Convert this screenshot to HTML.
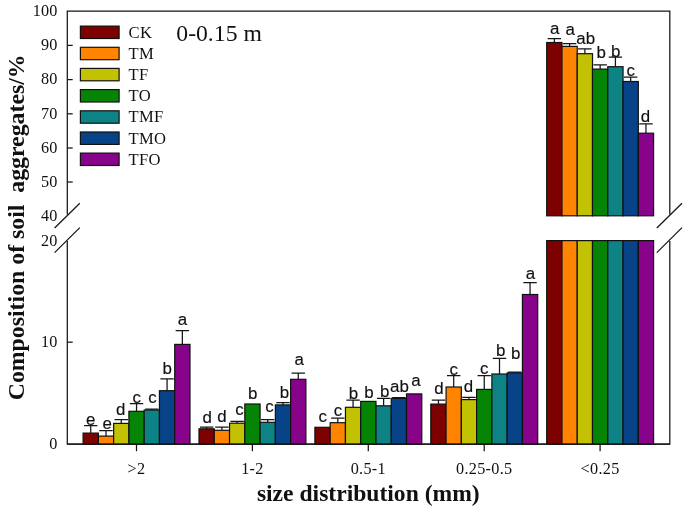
<!DOCTYPE html><html><head><meta charset="utf-8"><title>chart</title><style>html,body{margin:0;padding:0;background:#fff}svg{display:block;will-change:transform;opacity:0.999}text{font-family:"Liberation Serif",serif;fill:#111}.s{font-family:"Liberation Sans",sans-serif}</style></head><body>
<svg width="685" height="508" viewBox="0 0 685 508">
<rect width="685" height="508" fill="#fff"/>
<g stroke="#151515" stroke-width="1.25" fill="none">
<path d="M67.3 214.5V11.2H669.8V214.5"/>
<path d="M67.3 241V444.2H669.8V241"/>
<path d="M54.6 228.0L79.8 203.2"/>
<path d="M54.6 252.6L79.8 227.6"/>
<path d="M656.8 228.0L682.0 203.2"/>
<path d="M656.8 252.6L682.0 227.6"/>
<path d="M67.3 45.4h5.4"/>
<path d="M67.3 79.6h5.4"/>
<path d="M67.3 113.8h5.4"/>
<path d="M67.3 148.0h5.4"/>
<path d="M67.3 182.0h5.4"/>
<path d="M67.3 342.2h5.4"/>
<path d="M136.5 444.2v7"/>
<path d="M252.4 444.2v7"/>
<path d="M368.3 444.2v7"/>
<path d="M484.2 444.2v7"/>
<path d="M600.1 444.2v7"/>
</g>
<text x="57.5" y="16.0" font-size="16.2" letter-spacing="0.12" text-anchor="end">100</text>
<text x="57.5" y="50.2" font-size="16.2" letter-spacing="0.12" text-anchor="end">90</text>
<text x="57.5" y="84.4" font-size="16.2" letter-spacing="0.12" text-anchor="end">80</text>
<text x="57.5" y="118.6" font-size="16.2" letter-spacing="0.12" text-anchor="end">70</text>
<text x="57.5" y="152.8" font-size="16.2" letter-spacing="0.12" text-anchor="end">60</text>
<text x="57.5" y="186.8" font-size="16.2" letter-spacing="0.12" text-anchor="end">50</text>
<text x="57.5" y="220.8" font-size="16.2" letter-spacing="0.12" text-anchor="end">40</text>
<text x="57.5" y="245.5" font-size="16.2" letter-spacing="0.12" text-anchor="end">20</text>
<text x="57.5" y="347.0" font-size="16.2" letter-spacing="0.12" text-anchor="end">10</text>
<text x="57.5" y="449.2" font-size="16.2" letter-spacing="0.12" text-anchor="end">0</text>
<text x="136.5" y="474.2" font-size="16.2" letter-spacing="0.3" text-anchor="middle">&gt;2</text>
<text x="252.4" y="474.2" font-size="16.2" letter-spacing="0.3" text-anchor="middle">1-2</text>
<text x="368.3" y="474.2" font-size="16.2" letter-spacing="0.3" text-anchor="middle">0.5-1</text>
<text x="484.2" y="474.2" font-size="16.2" letter-spacing="0.3" text-anchor="middle">0.25-0.5</text>
<text x="600.1" y="474.2" font-size="16.2" letter-spacing="0.3" text-anchor="middle">&lt;0.25</text>
<text x="368.3" y="500.9" font-size="23.6" font-weight="bold" text-anchor="middle">size distribution (mm)</text>
<text transform="translate(23.6 400.3) rotate(-90)" font-size="23.8" font-weight="bold" style="white-space:pre">Composition of soil  aggregates/%</text>
<text x="176.3" y="40.8" font-size="23.7">0-0.15 m</text>
<rect x="80.4" y="26.1" width="38.7" height="12.4" fill="#7e0000" stroke="#111" stroke-width="1.2"/>
<text x="128.6" y="37.6" font-size="16.6" letter-spacing="0.3">CK</text>
<rect x="80.4" y="47.3" width="38.7" height="12.4" fill="#ff8400" stroke="#111" stroke-width="1.2"/>
<text x="128.6" y="58.8" font-size="16.6" letter-spacing="0.3">TM</text>
<rect x="80.4" y="68.4" width="38.7" height="12.4" fill="#c2c103" stroke="#111" stroke-width="1.2"/>
<text x="128.6" y="79.9" font-size="16.6" letter-spacing="0.3">TF</text>
<rect x="80.4" y="89.6" width="38.7" height="12.4" fill="#068406" stroke="#111" stroke-width="1.2"/>
<text x="128.6" y="101.1" font-size="16.6" letter-spacing="0.3">TO</text>
<rect x="80.4" y="110.8" width="38.7" height="12.4" fill="#0e8385" stroke="#111" stroke-width="1.2"/>
<text x="128.6" y="122.3" font-size="16.6" letter-spacing="0.3">TMF</text>
<rect x="80.4" y="132.0" width="38.7" height="12.4" fill="#094387" stroke="#111" stroke-width="1.2"/>
<text x="128.6" y="143.5" font-size="16.6" letter-spacing="0.3">TMO</text>
<rect x="80.4" y="153.1" width="38.7" height="12.4" fill="#87038a" stroke="#111" stroke-width="1.2"/>
<text x="128.6" y="164.6" font-size="16.6" letter-spacing="0.3">TFO</text>
<path d="M90.73 433.1V425.6M84.03 425.6h13.4" stroke="#151515" stroke-width="1.25" fill="none"/>
<rect x="83.10" y="433.1" width="15.27" height="11.10" fill="#7e0000" stroke="#111" stroke-width="1.2"/>
<text class="s" x="90.7" y="424.6" font-size="16.9" stroke="#111" stroke-width="0.15" text-anchor="middle">e</text>
<path d="M106.00 436.1V430.6M99.30 430.6h13.4" stroke="#151515" stroke-width="1.25" fill="none"/>
<rect x="98.37" y="436.1" width="15.27" height="8.10" fill="#ff8400" stroke="#111" stroke-width="1.2"/>
<text class="s" x="107.2" y="428.6" font-size="16.9" stroke="#111" stroke-width="0.15" text-anchor="middle">e</text>
<path d="M121.27 423.4V419.6M114.57 419.6h13.4" stroke="#151515" stroke-width="1.25" fill="none"/>
<rect x="113.64" y="423.4" width="15.27" height="20.80" fill="#c2c103" stroke="#111" stroke-width="1.2"/>
<text class="s" x="120.8" y="414.7" font-size="16.9" stroke="#111" stroke-width="0.15" text-anchor="middle">d</text>
<path d="M136.54 411.3V403.6M129.84 403.6h13.4" stroke="#151515" stroke-width="1.25" fill="none"/>
<rect x="128.91" y="411.3" width="15.27" height="32.90" fill="#068406" stroke="#111" stroke-width="1.2"/>
<text class="s" x="136.7" y="403.2" font-size="16.9" stroke="#111" stroke-width="0.15" text-anchor="middle">c</text>
<path d="M151.81 410.0V409.1M145.12 409.1h13.4" stroke="#151515" stroke-width="1.25" fill="none"/>
<rect x="144.18" y="410.0" width="15.27" height="34.20" fill="#0e8385" stroke="#111" stroke-width="1.2"/>
<text class="s" x="152.5" y="403.4" font-size="16.9" stroke="#111" stroke-width="0.15" text-anchor="middle">c</text>
<path d="M167.08 390.7V378.8M160.38 378.8h13.4" stroke="#151515" stroke-width="1.25" fill="none"/>
<rect x="159.45" y="390.7" width="15.27" height="53.50" fill="#094387" stroke="#111" stroke-width="1.2"/>
<text class="s" x="167.1" y="374.2" font-size="16.9" stroke="#111" stroke-width="0.15" text-anchor="middle">b</text>
<path d="M182.35 344.4V330.6M175.66 330.6h13.4" stroke="#151515" stroke-width="1.25" fill="none"/>
<rect x="174.72" y="344.4" width="15.27" height="99.80" fill="#87038a" stroke="#111" stroke-width="1.2"/>
<text class="s" x="182.4" y="325.0" font-size="16.9" stroke="#111" stroke-width="0.15" text-anchor="middle">a</text>
<path d="M206.63 428.8V427.0M199.94 427.0h13.4" stroke="#151515" stroke-width="1.25" fill="none"/>
<rect x="199.00" y="428.8" width="15.27" height="15.40" fill="#7e0000" stroke="#111" stroke-width="1.2"/>
<text class="s" x="207.3" y="423.3" font-size="16.9" stroke="#111" stroke-width="0.15" text-anchor="middle">d</text>
<path d="M221.91 430.3V427.0M215.21 427.0h13.4" stroke="#151515" stroke-width="1.25" fill="none"/>
<rect x="214.27" y="430.3" width="15.27" height="13.90" fill="#ff8400" stroke="#111" stroke-width="1.2"/>
<text class="s" x="221.9" y="422.2" font-size="16.9" stroke="#111" stroke-width="0.15" text-anchor="middle">d</text>
<path d="M237.17 423.2V421.4M230.47 421.4h13.4" stroke="#151515" stroke-width="1.25" fill="none"/>
<rect x="229.54" y="423.2" width="15.27" height="21.00" fill="#c2c103" stroke="#111" stroke-width="1.2"/>
<text class="s" x="239.5" y="414.7" font-size="16.9" stroke="#111" stroke-width="0.15" text-anchor="middle">c</text>
<rect x="244.81" y="404.0" width="15.27" height="40.20" fill="#068406" stroke="#111" stroke-width="1.2"/>
<text class="s" x="252.8" y="399.0" font-size="16.9" stroke="#111" stroke-width="0.15" text-anchor="middle">b</text>
<path d="M267.71 422.3V419.5M261.01 419.5h13.4" stroke="#151515" stroke-width="1.25" fill="none"/>
<rect x="260.08" y="422.3" width="15.27" height="21.90" fill="#0e8385" stroke="#111" stroke-width="1.2"/>
<text class="s" x="269.6" y="412.3" font-size="16.9" stroke="#111" stroke-width="0.15" text-anchor="middle">c</text>
<path d="M282.99 404.9V402.7M276.29 402.7h13.4" stroke="#151515" stroke-width="1.25" fill="none"/>
<rect x="275.35" y="404.9" width="15.27" height="39.30" fill="#094387" stroke="#111" stroke-width="1.2"/>
<text class="s" x="284.5" y="397.5" font-size="16.9" stroke="#111" stroke-width="0.15" text-anchor="middle">b</text>
<path d="M298.25 379.3V373.1M291.56 373.1h13.4" stroke="#151515" stroke-width="1.25" fill="none"/>
<rect x="290.62" y="379.3" width="15.27" height="64.90" fill="#87038a" stroke="#111" stroke-width="1.2"/>
<text class="s" x="299.2" y="365.3" font-size="16.9" stroke="#111" stroke-width="0.15" text-anchor="middle">a</text>
<rect x="314.90" y="427.3" width="15.27" height="16.90" fill="#7e0000" stroke="#111" stroke-width="1.2"/>
<text class="s" x="322.7" y="422.3" font-size="16.9" stroke="#111" stroke-width="0.15" text-anchor="middle">c</text>
<path d="M337.80 422.7V418.2M331.10 418.2h13.4" stroke="#151515" stroke-width="1.25" fill="none"/>
<rect x="330.17" y="422.7" width="15.27" height="21.50" fill="#ff8400" stroke="#111" stroke-width="1.2"/>
<text class="s" x="338.0" y="416.2" font-size="16.9" stroke="#111" stroke-width="0.15" text-anchor="middle">c</text>
<path d="M353.07 407.3V400.2M346.38 400.2h13.4" stroke="#151515" stroke-width="1.25" fill="none"/>
<rect x="345.44" y="407.3" width="15.27" height="36.90" fill="#c2c103" stroke="#111" stroke-width="1.2"/>
<text class="s" x="353.4" y="399.2" font-size="16.9" stroke="#111" stroke-width="0.15" text-anchor="middle">b</text>
<rect x="360.71" y="401.4" width="15.27" height="42.80" fill="#068406" stroke="#111" stroke-width="1.2"/>
<text class="s" x="368.9" y="397.7" font-size="16.9" stroke="#111" stroke-width="0.15" text-anchor="middle">b</text>
<path d="M383.61 405.8V398.4M376.91 398.4h13.4" stroke="#151515" stroke-width="1.25" fill="none"/>
<rect x="375.98" y="405.8" width="15.27" height="38.40" fill="#0e8385" stroke="#111" stroke-width="1.2"/>
<text class="s" x="384.7" y="396.5" font-size="16.9" stroke="#111" stroke-width="0.15" text-anchor="middle">b</text>
<path d="M398.88 398.4V397.6M392.19 397.6h13.4" stroke="#151515" stroke-width="1.25" fill="none"/>
<rect x="391.25" y="398.4" width="15.27" height="45.80" fill="#094387" stroke="#111" stroke-width="1.2"/>
<text class="s" x="399.5" y="392.0" font-size="16.9" stroke="#111" stroke-width="0.15" text-anchor="middle">ab</text>
<rect x="406.52" y="393.9" width="15.27" height="50.30" fill="#87038a" stroke="#111" stroke-width="1.2"/>
<text class="s" x="416.0" y="385.5" font-size="16.9" stroke="#111" stroke-width="0.15" text-anchor="middle">a</text>
<path d="M438.44 404.1V400.0M431.74 400.0h13.4" stroke="#151515" stroke-width="1.25" fill="none"/>
<rect x="430.80" y="404.1" width="15.27" height="40.10" fill="#7e0000" stroke="#111" stroke-width="1.2"/>
<text class="s" x="438.9" y="393.9" font-size="16.9" stroke="#111" stroke-width="0.15" text-anchor="middle">d</text>
<path d="M453.70 387.0V375.7M447.00 375.7h13.4" stroke="#151515" stroke-width="1.25" fill="none"/>
<rect x="446.07" y="387.0" width="15.27" height="57.20" fill="#ff8400" stroke="#111" stroke-width="1.2"/>
<text class="s" x="453.7" y="374.8" font-size="16.9" stroke="#111" stroke-width="0.15" text-anchor="middle">c</text>
<path d="M468.98 399.6V397.4M462.28 397.4h13.4" stroke="#151515" stroke-width="1.25" fill="none"/>
<rect x="461.34" y="399.6" width="15.27" height="44.60" fill="#c2c103" stroke="#111" stroke-width="1.2"/>
<text class="s" x="468.5" y="391.7" font-size="16.9" stroke="#111" stroke-width="0.15" text-anchor="middle">d</text>
<path d="M484.25 389.4V375.7M477.55 375.7h13.4" stroke="#151515" stroke-width="1.25" fill="none"/>
<rect x="476.61" y="389.4" width="15.27" height="54.80" fill="#068406" stroke="#111" stroke-width="1.2"/>
<text class="s" x="484.2" y="373.6" font-size="16.9" stroke="#111" stroke-width="0.15" text-anchor="middle">c</text>
<path d="M499.51 374.0V358.4M492.81 358.4h13.4" stroke="#151515" stroke-width="1.25" fill="none"/>
<rect x="491.88" y="374.0" width="15.27" height="70.20" fill="#0e8385" stroke="#111" stroke-width="1.2"/>
<text class="s" x="500.6" y="356.2" font-size="16.9" stroke="#111" stroke-width="0.15" text-anchor="middle">b</text>
<path d="M514.78 372.9V372.0M508.08 372.0h13.4" stroke="#151515" stroke-width="1.25" fill="none"/>
<rect x="507.15" y="372.9" width="15.27" height="71.30" fill="#094387" stroke="#111" stroke-width="1.2"/>
<text class="s" x="515.6" y="358.7" font-size="16.9" stroke="#111" stroke-width="0.15" text-anchor="middle">b</text>
<path d="M530.06 294.5V282.5M523.36 282.5h13.4" stroke="#151515" stroke-width="1.25" fill="none"/>
<rect x="522.42" y="294.5" width="15.27" height="149.70" fill="#87038a" stroke="#111" stroke-width="1.2"/>
<text class="s" x="530.4" y="279.2" font-size="16.9" stroke="#111" stroke-width="0.15" text-anchor="middle">a</text>
<path d="M554.34 42.5V38.5M547.63 38.5h13.4" stroke="#151515" stroke-width="1.25" fill="none"/>
<rect x="546.70" y="42.5" width="15.27" height="173.30" fill="#7e0000" stroke="#111" stroke-width="1.2"/>
<rect x="546.70" y="240.6" width="15.27" height="203.60" fill="#7e0000" stroke="#111" stroke-width="1.2"/>
<text class="s" x="554.7" y="33.8" font-size="16.9" stroke="#111" stroke-width="0.15" text-anchor="middle">a</text>
<path d="M569.61 46.4V43.7M562.90 43.7h13.4" stroke="#151515" stroke-width="1.25" fill="none"/>
<rect x="561.97" y="46.4" width="15.27" height="169.40" fill="#ff8400" stroke="#111" stroke-width="1.2"/>
<rect x="561.97" y="240.6" width="15.27" height="203.60" fill="#ff8400" stroke="#111" stroke-width="1.2"/>
<text class="s" x="570.2" y="34.9" font-size="16.9" stroke="#111" stroke-width="0.15" text-anchor="middle">a</text>
<path d="M584.88 53.7V48.8M578.17 48.8h13.4" stroke="#151515" stroke-width="1.25" fill="none"/>
<rect x="577.24" y="53.7" width="15.27" height="162.10" fill="#c2c103" stroke="#111" stroke-width="1.2"/>
<rect x="577.24" y="240.6" width="15.27" height="203.60" fill="#c2c103" stroke="#111" stroke-width="1.2"/>
<text class="s" x="585.7" y="44.2" font-size="16.9" stroke="#111" stroke-width="0.15" text-anchor="middle">ab</text>
<path d="M600.14 69.1V64.9M593.44 64.9h13.4" stroke="#151515" stroke-width="1.25" fill="none"/>
<rect x="592.51" y="69.1" width="15.27" height="146.70" fill="#068406" stroke="#111" stroke-width="1.2"/>
<rect x="592.51" y="240.6" width="15.27" height="203.60" fill="#068406" stroke="#111" stroke-width="1.2"/>
<text class="s" x="601.1" y="58.1" font-size="16.9" stroke="#111" stroke-width="0.15" text-anchor="middle">b</text>
<path d="M615.42 66.7V57.2M608.72 57.2h13.4" stroke="#151515" stroke-width="1.25" fill="none"/>
<rect x="607.78" y="66.7" width="15.27" height="149.10" fill="#0e8385" stroke="#111" stroke-width="1.2"/>
<rect x="607.78" y="240.6" width="15.27" height="203.60" fill="#0e8385" stroke="#111" stroke-width="1.2"/>
<text class="s" x="615.7" y="57.0" font-size="16.9" stroke="#111" stroke-width="0.15" text-anchor="middle">b</text>
<path d="M630.69 81.5V77.2M623.99 77.2h13.4" stroke="#151515" stroke-width="1.25" fill="none"/>
<rect x="623.05" y="81.5" width="15.27" height="134.30" fill="#094387" stroke="#111" stroke-width="1.2"/>
<rect x="623.05" y="240.6" width="15.27" height="203.60" fill="#094387" stroke="#111" stroke-width="1.2"/>
<text class="s" x="630.7" y="76.1" font-size="16.9" stroke="#111" stroke-width="0.15" text-anchor="middle">c</text>
<path d="M645.96 133.2V123.8M639.25 123.8h13.4" stroke="#151515" stroke-width="1.25" fill="none"/>
<rect x="638.32" y="133.2" width="15.27" height="82.60" fill="#87038a" stroke="#111" stroke-width="1.2"/>
<rect x="638.32" y="240.6" width="15.27" height="203.60" fill="#87038a" stroke="#111" stroke-width="1.2"/>
<text class="s" x="645.4" y="121.6" font-size="16.9" stroke="#111" stroke-width="0.15" text-anchor="middle">d</text>
<path d="M67.3 444.2H669.8" stroke="#151515" stroke-width="1.25" fill="none"/>
</svg></body></html>
